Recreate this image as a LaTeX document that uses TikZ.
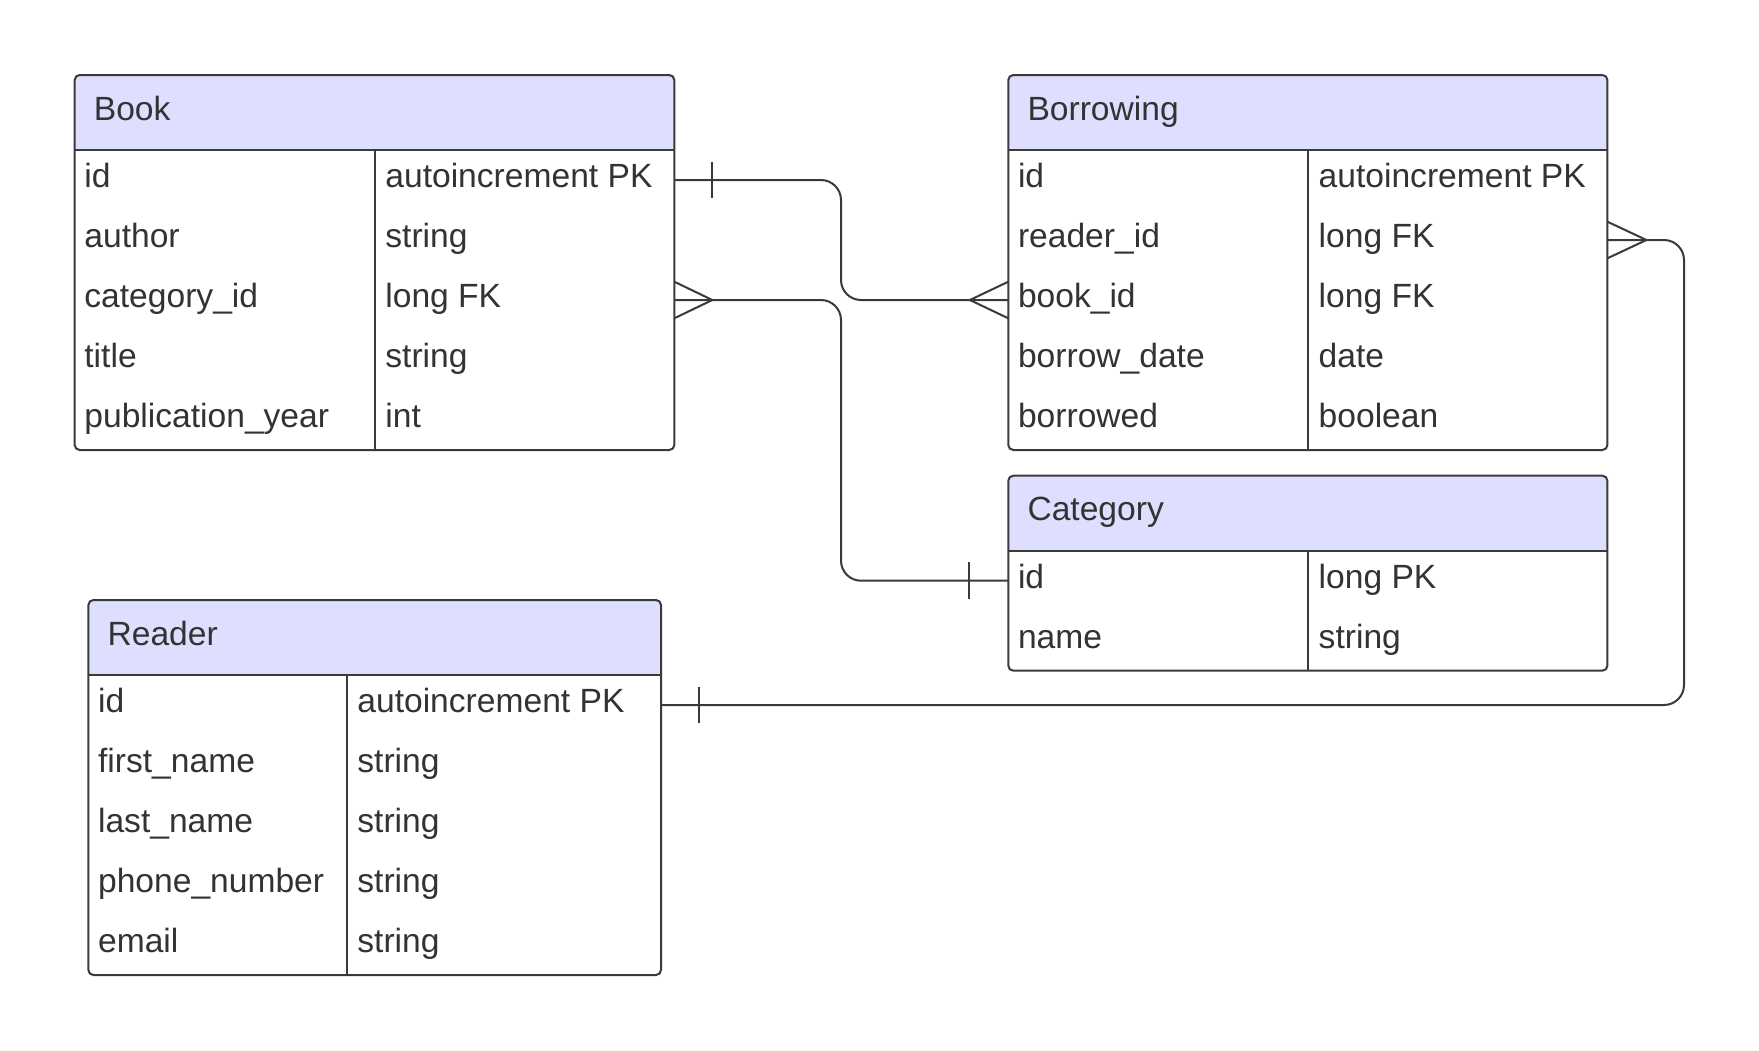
\documentclass[tikz,border=0pt]{standalone}
\usepackage{fontspec}
\setmainfont{Liberation Sans}
\usetikzlibrary{fit}
\definecolor{hdrfill}{RGB}{222,223,255}
\definecolor{inkc}{RGB}{51,51,51}
\definecolor{linec}{RGB}{58,58,58}
\tikzset{
  tablebox/.style={draw=linec, line width=2, rounded corners=5, inner sep=0, rectangle},
  tableline/.style={draw=linec, line width=2},
  titletext/.style={anchor=base west, inner sep=0, text=inkc, font=\fontsize{33.6}{40}\selectfont},
  celltext/.style={anchor=base west, inner sep=0, text=inkc, font=\fontsize{33.6}{40}\selectfont},
  conn/.style={draw=linec, line width=2, rounded corners=20},
  cardmark/.style={draw=linec, line width=2},
}
% #1 name #2 left #3 top #4 right #5 bottom #6 divider #7 title #8 rows
\newcommand{\ertable}[8]{%
  \begin{scope}
    \clip[rounded corners=5] (#2,#3) rectangle (#4,#5);
    \fill[hdrfill] (#2,#3) rectangle (#4,#3+75);
  \end{scope}
  \node[tablebox, fit={(#2,#3) (#4,#5)}] (#1) {};
  \draw[tableline] (#2,#3+75) -- (#4,#3+75);
  \draw[tableline] (#6,#3+75) -- (#6,#5);
  \node[titletext] (#1-title) at (#2+19,#3+45) {#7};
  \foreach \fld/\typ [count=\i] in {#8} {
    \node[celltext] (#1-f\i) at (#2+9.5,#3+75+60*\i-22.5) {\fld};
    \node[celltext] (#1-t\i) at (#6+10.5,#3+75+60*\i-22.5) {\typ};
    \coordinate (#1-r\i-w) at (#2,#3+75+60*\i-30);
    \coordinate (#1-r\i-e) at (#4,#3+75+60*\i-30);
  }%
}
\begin{document}
\begin{tikzpicture}[x=1pt,y=-1pt]
\useasboundingbox[fill=white] (0,0) rectangle (1759,1050);

\ertable{book}{74.7}{75}{674.3}{450}{374.7}{Book}{id/autoincrement PK, author/string, category\_id/long FK, title/string, publication\_year/int}
\ertable{borrowing}{1008.3}{75}{1607.4}{450}{1308}{Borrowing}{id/autoincrement PK, reader\_id/long FK, book\_id/long FK, borrow\_date/date, borrowed/boolean}
\ertable{category}{1008.3}{475.7}{1607.4}{670.7}{1308}{Category}{id/long PK, name/string}
\ertable{reader}{88.4}{600}{661}{975}{346.7}{Reader}{id/autoincrement PK, first\_name/string, last\_name/string, phone\_number/string, email/string}

\coordinate (v1) at (841,0);
\coordinate (v2) at (1684,0);

\draw[conn] (book-r1-e) -- (book-r1-e -| v1) |- (borrowing-r3-w);
\draw[conn] (book-r3-e) -- (book-r3-e -| v1) |- (category-r1-w);
\draw[conn] (reader-r1-e) -- (reader-r1-e -| v2) |- (borrowing-r2-e);

% one marks
\draw[cardmark] (book-r1-e) ++(38,-18.3) -- ++(0,36.6);
\draw[cardmark] (category-r1-w) ++(-39,-18.3) -- ++(0,36.6);
\draw[cardmark] (reader-r1-e) ++(37.6,-18.3) -- ++(0,36.6);
% many marks
\draw[cardmark] (book-r3-e) ++(0,-18.3) -- ++(38,18.3) -- ++(-38,18.3);
\draw[cardmark] (borrowing-r3-w) ++(0,-18.3) -- ++(-38.4,18.3) -- ++(38.4,18.3);
\draw[cardmark] (borrowing-r2-e) ++(0,-18.3) -- ++(39,18.3) -- ++(-39,18.3);
\end{tikzpicture}
\end{document}
